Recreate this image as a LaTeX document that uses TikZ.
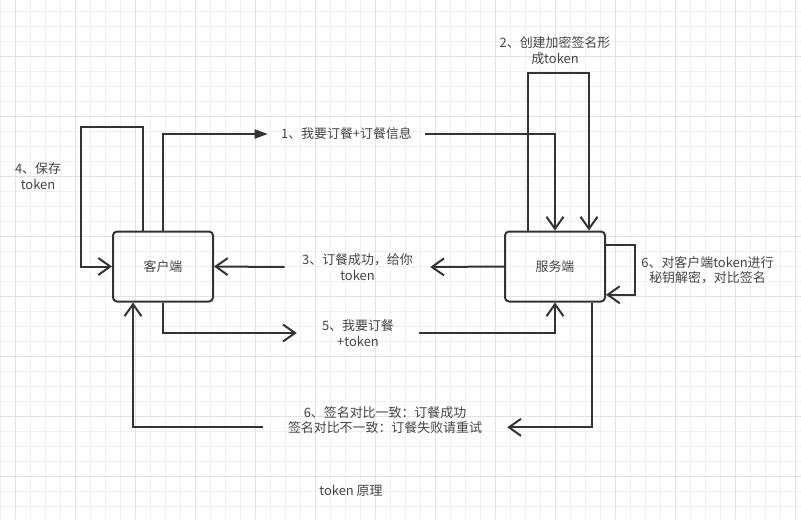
\documentclass[tikz,border=0pt]{standalone}
\usepackage{fontspec}
\usetikzlibrary{arrows.meta}
\newfontfamily\cjk{Noto Sans CJK SC}
\definecolor{linegray}{HTML}{333333}
\definecolor{textgray}{HTML}{444444}
\definecolor{gridminor}{HTML}{F0F0F0}
\definecolor{gridmajor}{HTML}{E2E2E2}

\begin{document}
\begin{tikzpicture}[x=0.75pt,y=-0.75pt,
	box/.style={draw=linegray,line width=1.5pt,rounded corners=3pt,minimum width=75pt,minimum height=52.5pt,font=\cjk\fontsize{9.7}{11.6}\selectfont,text=textgray},
	lbl/.style={font=\cjk\fontsize{9.7}{11.6}\selectfont,text=textgray,align=center,inner sep=0pt},
	plain/.style={draw=linegray,line width=1.5pt},
	link/.style={plain,-{Straight Barb[length=9pt,width=12.75pt]}},
	gridline/.style={draw=gridminor,line width=0.75pt},
	gridbold/.style={draw=gridmajor,line width=0.75pt}]
		\useasboundingbox (0,0) rectangle (801,519);
		\fill[white] (0,0) rectangle (801,519);
		\foreach \x in {0,15,...,795} \draw[gridline] (\x,0) -- (\x,519);
		\foreach \y in {11,26,...,506} \draw[gridline] (0,\y) -- (801,\y);
		\foreach \x in {15,75,...,795} \draw[gridbold] (\x,0) -- (\x,519);
		\foreach \y in {56,116,...,476} \draw[gridbold] (0,\y) -- (801,\y);
		
		\node[box] (client) at (163,266.5) {客户端};
		\node[box] (server) at (555,266.5) {服务端};
		
		\node[lbl,minimum width=117.75pt] (lab1) at (346.5,134) {1、我要订餐+订餐信息};
		\node[lbl] (lab2) at (555,50.5) {2、创建加密签名形\\成token};
		\node[lbl,minimum width=108.75pt] (lab3) at (357.5,267) {3、订餐成功，给你\\token};
		\node[lbl] (lab4) at (38,176) {4、保存\\token};
		\node[lbl,minimum width=91.5pt] (lab5) at (358,333) {5、我要订餐\\+token};
		\node[lbl,minimum width=183pt] (lab6) at (385,420) {6、签名对比一致：订餐成功\\签名对比不一致：订餐失败请重试};
		\node[lbl] (lab7) at (707.5,270) {6、对客户端token进行\\秘钥解密，对比签名};
		\node[lbl] (title) at (351,491) {token 原理};
		
		\draw[plain,-{Triangle[length=9.75pt,width=6.75pt]}] (client.north) |- (lab1.west);
		\draw[link] (lab1.east) -| (server.north);
		\draw[link] ([xshift=18pt]server.north west) -- ++(0,-158) -| ([xshift=-12.75pt]server.north east);
		\draw[link] (server.west) -- (lab3.east);
		\draw[link] (lab3.west) -- (client.east);
		\draw[link] ([xshift=23pt]client.north west) -- ++(0,-104) -- ++(-61.3,0) |- (client.west);
		\draw[link] (client.south) |- (lab5.west);
		\draw[link] (lab5.east) -| (server.south);
		\draw[link] ([xshift=-10.5pt]server.south east) |- ([yshift=-5.5pt]lab6.east);
		\draw[link] ([yshift=-5.5pt]lab6.west) -| ([xshift=15.75pt]client.south west);
		\draw[link] ([yshift=-10.5pt]server.north east) -- ++(29.3,0) |- ([yshift=5.8pt]server.south east);
\end{tikzpicture}
\end{document}
